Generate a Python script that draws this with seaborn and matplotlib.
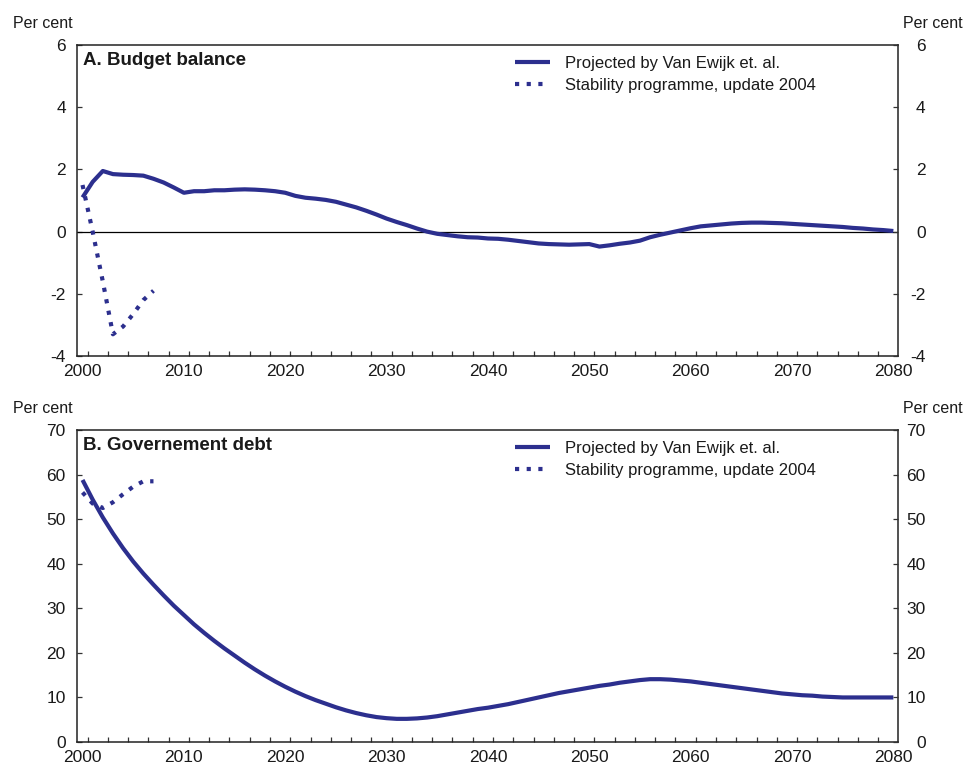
import matplotlib
matplotlib.use("Agg")
import matplotlib.pyplot as plt
import seaborn as sns
import pandas as pd
from matplotlib.ticker import FixedLocator

# ---------------- data ----------------
years = list(range(2000, 2081))
balance_proj = [1.10, 1.60, 1.95, 1.85, 1.83, 1.82, 1.80, 1.70, 1.58, 1.42,
                1.25, 1.30, 1.30, 1.33, 1.33, 1.35, 1.36, 1.35, 1.33, 1.30,
                1.25, 1.15, 1.09, 1.06, 1.02, 0.96, 0.87, 0.78, 0.67, 0.55,
                0.42, 0.31, 0.21, 0.10, 0.00, -0.07, -0.11, -0.15, -0.18, -0.19,
                -0.22, -0.23, -0.26, -0.30, -0.34, -0.38, -0.40, -0.41, -0.42, -0.41,
                -0.40, -0.48, -0.44, -0.39, -0.35, -0.29, -0.18, -0.10, -0.03, 0.04,
                0.11, 0.17, 0.20, 0.23, 0.26, 0.28, 0.29, 0.29, 0.28, 0.27,
                0.25, 0.23, 0.21, 0.19, 0.17, 0.15, 0.12, 0.10, 0.07, 0.05,
                0.02]
debt_proj = [58.8, 54.4, 50.4, 46.8, 43.5, 40.5, 37.8, 35.3, 32.9, 30.6,
             28.5, 26.4, 24.5, 22.7, 21.0, 19.4, 17.8, 16.3, 14.9, 13.6,
             12.4, 11.3, 10.3, 9.4, 8.6, 7.8, 7.1, 6.5, 6.0, 5.6,
             5.35, 5.2, 5.2, 5.3, 5.5, 5.8, 6.2, 6.6, 7.0, 7.4,
             7.7, 8.1, 8.5, 9.0, 9.5, 10.0, 10.5, 11.0, 11.4, 11.8,
             12.2, 12.6, 12.9, 13.3, 13.6, 13.9, 14.1, 14.1, 14.0, 13.8,
             13.6, 13.3, 13.0, 12.7, 12.4, 12.1, 11.8, 11.5, 11.2, 10.9,
             10.7, 10.5, 10.4, 10.2, 10.1, 10.0, 10.0, 10.0, 10.0, 10.0,
             10.0]
sp_years = [2000, 2001, 2002, 2003, 2004, 2005, 2006, 2007]
balance_sp = [1.5, 0.0, -1.6, -3.3, -3.05, -2.65, -2.2, -1.9]
debt_sp = [56.0, 53.5, 52.5, 53.8, 55.6, 57.3, 58.5, 58.5]

label_proj = "Projected by Van Ewijk et. al."
label_sp = "Stability programme, update 2004"
titles = ["A. Budget balance", "B. Governement debt"]
x_ticks = [2000, 2010, 2020, 2030, 2040, 2050, 2060, 2070, 2080]
yticks_a = [-4, -2, 0, 2, 4, 6]
yticks_b = [0, 10, 20, 30, 40, 50, 60, 70]

# ---------------- style ----------------
sns.set_style("white")
plt.rcParams['font.family'] = ['Liberation Sans', 'DejaVu Sans']
COLOR = "#2C2F8E"
DOT = (0, (1, 1.8))

fig = plt.figure(figsize=(9.68, 7.66), dpi=100)
ax_a = fig.add_axes([0.0795, 0.5352, 0.8481, 0.4060])
ax_b = fig.add_axes([0.0795, 0.0313, 0.8481, 0.4073])

df_a = pd.DataFrame({"year": years, "value": balance_proj})
df_a_sp = pd.DataFrame({"year": sp_years, "value": balance_sp})
df_b = pd.DataFrame({"year": years, "value": debt_proj})
df_b_sp = pd.DataFrame({"year": sp_years, "value": debt_sp})


def style_axes(ax, yticks, ylim, title, zero_line=False):
    ax.set_xlim(1999.45, 2080.45)
    ax.set_ylim(*ylim)
    if zero_line:
        ax.axhline(0, color="black", lw=0.9, zorder=1)
    ax.set_xlabel("")
    ax.set_ylabel("")
    ax.set_xticks(x_ticks)
    ax.set_xticklabels([str(t) for t in x_ticks])
    ax.xaxis.set_minor_locator(FixedLocator([y + 0.5 for y in range(2000, 2080, 2)]))
    ax.tick_params(axis="x", which="major", length=0, pad=6, labelsize=12.5,
                   colors="#1a1a1a")
    ax.tick_params(axis="x", which="minor", direction="in", length=3.5,
                   width=0.9, color="#333333", bottom=True)
    ax.set_yticks(yticks)
    ax.set_yticklabels([str(t) for t in yticks])
    ax.tick_params(axis="y", which="major", direction="in", length=3.5,
                   width=0.9, color="#333333", pad=8, labelsize=12.5,
                   labelcolor="#1a1a1a", left=True)
    for s in ax.spines.values():
        s.set_color("#222222")
        s.set_linewidth(1.1)
    ax.text(0.007, 0.977, title, transform=ax.transAxes, ha="left", va="top",
            fontsize=13.5, fontweight="bold", color="#1a1a1a")
    # right axis
    ax2 = ax.twinx()
    ax2.set_ylim(*ylim)
    ax2.set_yticks(yticks)
    ax2.set_yticklabels([str(t) for t in yticks])
    ax2.tick_params(axis="y", direction="in", length=3.5, width=0.9,
                    color="#333333", pad=20, labelsize=12.5,
                    labelcolor="#1a1a1a", right=True)
    for lbl in ax2.get_yticklabels():
        lbl.set_horizontalalignment("right")
    for s in ax2.spines.values():
        s.set_visible(False)
    # legend
    ax.legend(loc="upper left", bbox_to_anchor=(0.533, 0.965),
              borderaxespad=0, borderpad=0, frameon=False, handlelength=2.1,
              handletextpad=0.9, labelspacing=0.42, fontsize=12,
              labelcolor="#1a1a1a")


for ax, d, dsp, yt, yl, title, zl in [
        (ax_a, df_a, df_a_sp, yticks_a, (-4, 6), titles[0], True),
        (ax_b, df_b, df_b_sp, yticks_b, (0, 70), titles[1], False)]:
    sns.lineplot(data=d, x="year", y="value", ax=ax, color=COLOR, lw=3.0,
                 label=label_proj, zorder=3)
    sns.lineplot(data=dsp, x="year", y="value", ax=ax, color=COLOR, lw=3.0,
                 linestyle=DOT, label=label_sp, zorder=3)
    for ln in ax.get_lines():
        ln.set_dash_capstyle("butt")
        ln.set_solid_capstyle("butt")
    style_axes(ax, yt, yl, title, zero_line=zl)

# "Per cent" labels
for yb in [1 - 28.3 / 766, 1 - 413.3 / 766]:
    fig.text(72.5 / 968, yb, "Per cent", ha="right", va="baseline",
             fontsize=11.5, color="#1a1a1a")
    fig.text(903 / 968, yb, "Per cent", ha="left", va="baseline",
             fontsize=11.5, color="#1a1a1a")

fig.savefig("out.png", dpi=100)
